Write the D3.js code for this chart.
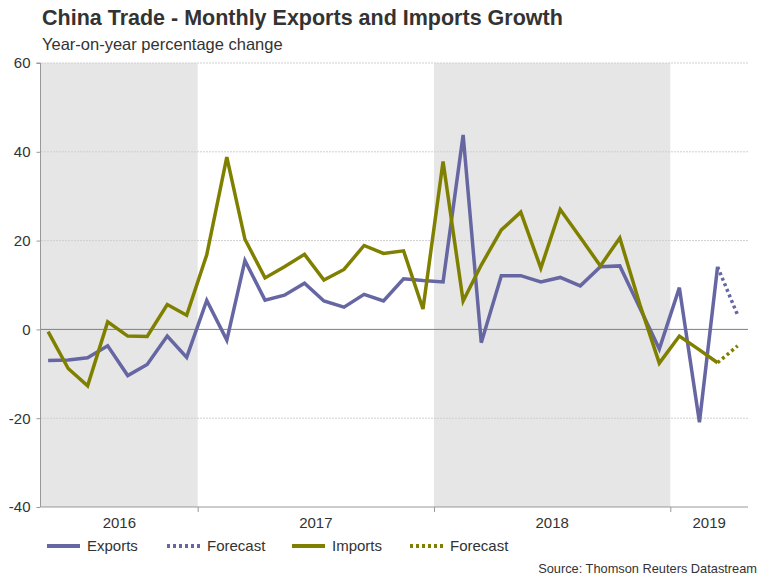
<!DOCTYPE html>
<html><head><meta charset="utf-8">
<script src="https://cdn.jsdelivr.net/npm/d3@7"></script>
<style>body{margin:0;background:#fff;} text{font-family:"Liberation Sans",Arial,sans-serif;}</style>
</head><body>
<svg id="c" width="768" height="576"></svg>
<script>
// months of actual data, May 2016 - Mar 2019
const startMonth = "2016-05";
const exports = [-7.0, -6.9, -6.4, -3.7, -10.4, -7.9, -1.5, -6.3,
  6.5, -2.4, 15.5, 6.6, 7.7, 10.4, 6.4, 5.0, 7.9, 6.4, 11.4, 11.0,
  10.7, 43.8, -3.0, 12.1, 12.1, 10.7, 11.7, 9.8, 14.1, 14.3, 4.8, -4.4,
  9.4, -20.9, 14.1];
const imports = [-0.5, -8.8, -12.7, 1.7, -1.5, -1.6, 5.6, 3.2,
  16.8, 38.8, 20.3, 11.6, 14.1, 16.9, 11.1, 13.5, 18.9, 17.1, 17.7, 4.6,
  37.8, 6.4, 14.5, 22.4, 26.4, 13.8, 27.0, 20.7, 14.3, 20.6, 5.6, -7.6,
  -1.5, -4.6, -7.5];
// forecast: last actual month (Mar 2019) -> Apr 2019
const forecastMonths = ["2019-03", "2019-04"];
const exportsForecast = [14.1, 3.2];
const importsForecast = [-7.5, -3.7];
const yTicks = [-40, -20, 0, 20, 40, 60];
const shadedYears = [2016, 2018];
const yearLabels = [2016, 2017, 2018, 2019];

const svg = d3.select("#c");
const L = 41, R = 748, T = 63, B = 507;
const x = d3.scaleTime().domain([new Date(2016,4,4), new Date(2019,4,1)]).range([L, R]);
const y = d3.scaleLinear().domain([-40, 60]).range([B, T]);
const purple = "#6666a3", olive = "#808000";

const mdate = (s) => { const [yy, mm] = s.split("-").map(Number); return new Date(yy, mm-1, 15); };
const d0 = mdate(startMonth);
const dates = exports.map((_, i) => new Date(d0.getFullYear(), d0.getMonth()+i, 15));

// shading
shadedYears.forEach(yr => {
  const a = Math.max(L, x(new Date(yr,0,1))), b = Math.min(R, x(new Date(yr+1,0,1)));
  svg.append("rect").attr("x", a).attr("y", T).attr("width", b-a).attr("height", B-T).attr("fill", "#e6e6e6");
});

// gridlines
yTicks.forEach(t => {
  if (t === -40) return;
  svg.append("line").attr("x1", L).attr("x2", R).attr("y1", y(t)).attr("y2", y(t))
    .attr("stroke", t === 0 ? "#7f7f7f" : "#cfcfcf")
    .attr("stroke-width", 1)
    .attr("stroke-dasharray", t === 0 ? null : "2,1");
});

// y axis
const yAxis = d3.axisLeft(y).tickValues(yTicks).tickSize(4).tickPadding(6).tickFormat(d => String(d));
const ya = svg.append("g").attr("transform", `translate(${L-0.5},0)`).call(yAxis);
ya.select(".domain").attr("stroke", "#999").attr("d", `M-4,${T}H0V${B}`);
ya.selectAll(".tick line").attr("stroke", "#999");
ya.selectAll(".tick text").attr("fill", "#333").style("font-size", "15px").style("font-family", '"Liberation Sans",Arial,sans-serif');

// x axis
const boundaries = [new Date(2017,0,1), new Date(2018,0,1), new Date(2019,0,1)];
const xAxis = d3.axisBottom(x).tickValues(boundaries).tickSize(5).tickFormat("");
const xa = svg.append("g").attr("transform", `translate(0,${B})`).call(xAxis);
xa.select(".domain").attr("stroke", "#999").attr("d", `M${L},0H${R}`);
xa.selectAll(".tick line").attr("stroke", "#999");
yearLabels.forEach(yr => {
  const a = Math.max(L, x(new Date(yr,0,1))), b = Math.min(R, x(new Date(yr+1,0,1)));
  svg.append("text").attr("x", (a+b)/2).attr("y", 528).attr("text-anchor", "middle")
    .attr("fill", "#333").style("font-size", "15px").text(yr);
});

// lines
const line = d3.line().x(d => x(d[0])).y(d => y(d[1]));
const fDates = forecastMonths.map(mdate);
svg.append("path").datum(fDates.map((d,i)=>[d, exportsForecast[i]])).attr("d", line)
  .attr("fill","none").attr("stroke", purple).attr("stroke-width", 3.5).attr("stroke-dasharray","3,3");
svg.append("path").datum(fDates.map((d,i)=>[d, importsForecast[i]])).attr("d", line)
  .attr("fill","none").attr("stroke", olive).attr("stroke-width", 3.5).attr("stroke-dasharray","3,3");
svg.append("path").datum(dates.map((d,i)=>[d, exports[i]])).attr("d", line)
  .attr("fill","none").attr("stroke", purple).attr("stroke-width", 3.5).attr("stroke-linejoin","miter");
svg.append("path").datum(dates.map((d,i)=>[d, imports[i]])).attr("d", line)
  .attr("fill","none").attr("stroke", olive).attr("stroke-width", 3.5).attr("stroke-linejoin","miter");

// titles
svg.append("text").attr("x", 42).attr("y", 25).attr("fill", "#333").style("font-size","21.5px").style("font-weight","bold")
  .text("China Trade - Monthly Exports and Imports Growth");
svg.append("text").attr("x", 42).attr("y", 50).attr("fill", "#333").style("font-size","16.5px")
  .text("Year-on-year percentage change");

// legend
const legend = [
  {label:"Exports", color:purple, dash:null, x:47},
  {label:"Forecast", color:purple, dash:"3,3", x:167},
  {label:"Imports", color:olive, dash:null, x:292},
  {label:"Forecast", color:olive, dash:"3,3", x:410}
];
legend.forEach(l => {
  svg.append("line").attr("x1", l.x).attr("x2", l.x+33).attr("y1", 546).attr("y2", 546)
    .attr("stroke", l.color).attr("stroke-width", 4).attr("stroke-dasharray", l.dash);
  svg.append("text").attr("x", l.x+40).attr("y", 551).attr("fill", "#333").style("font-size","15px").text(l.label);
});
svg.append("text").attr("x", 757).attr("y", 573).attr("text-anchor","end").attr("fill","#333")
  .style("font-size","12.8px").text("Source: Thomson Reuters Datastream");
</script>
</body></html>
